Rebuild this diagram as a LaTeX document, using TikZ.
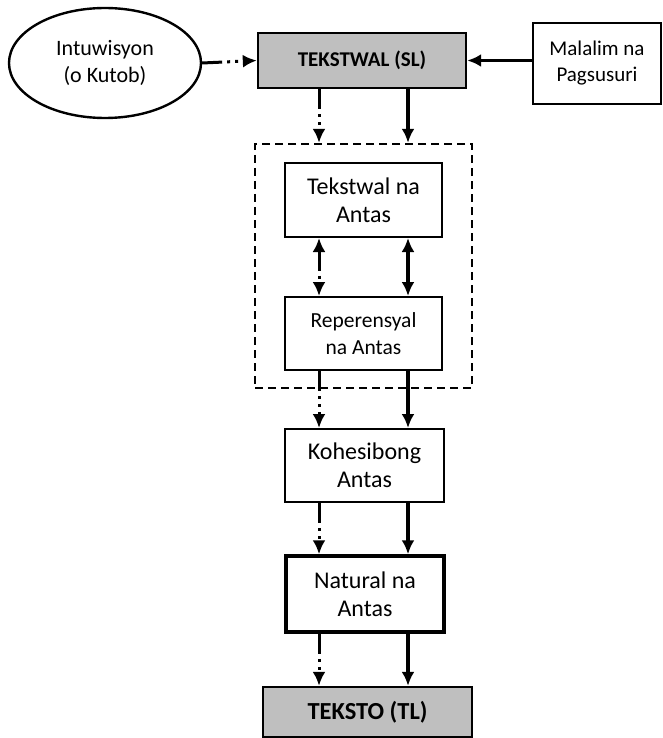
\documentclass[tikz,border=0pt]{standalone}
\usepackage{fontspec}
\setmainfont{Carlito}
\usetikzlibrary{arrows.meta,shapes.geometric}

\tikzset{
  blok/.style={draw, line width=2pt, align=center, inner sep=0pt},
  gray box/.style={blok, fill=black!25},
  dd/.style={line width=3pt, dash pattern=on 20pt off 5pt on 3pt off 5pt on 3pt off 5pt},
  sol/.style={line width=3.2pt}
}

\begin{document}
\begin{tikzpicture}[x=1pt, y=-1pt, >={Latex[length=14pt,width=13pt]}]
\useasboundingbox (0,0) rectangle (663,738);
\clip (0,0) rectangle (663,738);
\coordinate (cL) at (319,0);
\coordinate (cR) at (408,0);
% upper row
\node[blok, line width=2.4pt, ellipse, minimum width=192pt, minimum height=110pt, font=\fontsize{22}{27}\selectfont] (intu) at (105,63) {Intuwisyon\\(o Kutob)};
\node[gray box, line width=2.4pt, minimum width=208pt, minimum height=55pt, font=\fontsize{21}{25}\selectfont\bfseries] (sl) at (362,60.5) {TEKSTWAL (SL)};
\node[blok, minimum width=128pt, minimum height=81pt, font=\fontsize{21}{26}\selectfont] (mal) at (597,63.5) {Malalim na\\Pagsusuri};
% middle column
\node[draw, line width=2.4pt, dash pattern=on 8pt off 5pt, minimum width=217pt, minimum height=244pt] (frame) at (363.5,266) {};
\node[blok, minimum width=157pt, minimum height=74pt, font=\fontsize{24}{28}\selectfont] (tna) at (363.5,200) {Tekstwal na\\Antas};
\node[blok, minimum width=157pt, minimum height=73pt, font=\fontsize{21.5}{27}\selectfont] (rep) at (363.5,333.5) {Reperensyal\\na Antas};
\node[blok, minimum width=159pt, minimum height=73pt, font=\fontsize{24}{28}\selectfont] (koh) at (364.5,465.5) {Kohesibong\\Antas};
\node[blok, line width=3.5pt, minimum width=158pt, minimum height=76pt, font=\fontsize{24}{28}\selectfont] (nat) at (365,594) {Natural na\\Antas};
\node[gray box, line width=2.4pt, minimum width=209pt, minimum height=50pt, font=\fontsize{24.5}{29}\selectfont\bfseries] (tl) at (367.5,712) {TEKSTO (TL)};
% connectors
\draw[dd, ->] (intu.east) -- (sl.west);
\draw[sol, ->] (mal.west |- sl.east) -- (sl.east);
\draw[dd, ->] (sl.south -| cL) -- (frame.north -| cL);
\draw[sol, ->] (sl.south -| cR) -- (frame.north -| cR);
\draw[dd, <->] (tna.south -| cL) -- (rep.north -| cL);
\draw[sol, <->] (tna.south -| cR) -- (rep.north -| cR);
\draw[dd, ->] (rep.south -| cL) -- (koh.north -| cL);
\draw[sol, ->] (rep.south -| cR) -- (koh.north -| cR);
\draw[dd, ->] (koh.south -| cL) -- (nat.north -| cL);
\draw[sol, ->] (koh.south -| cR) -- (nat.north -| cR);
\draw[dd, ->] (nat.south -| cL) -- (tl.north -| cL);
\draw[sol, ->] (nat.south -| cR) -- (tl.north -| cR);
\end{tikzpicture}
\end{document}
